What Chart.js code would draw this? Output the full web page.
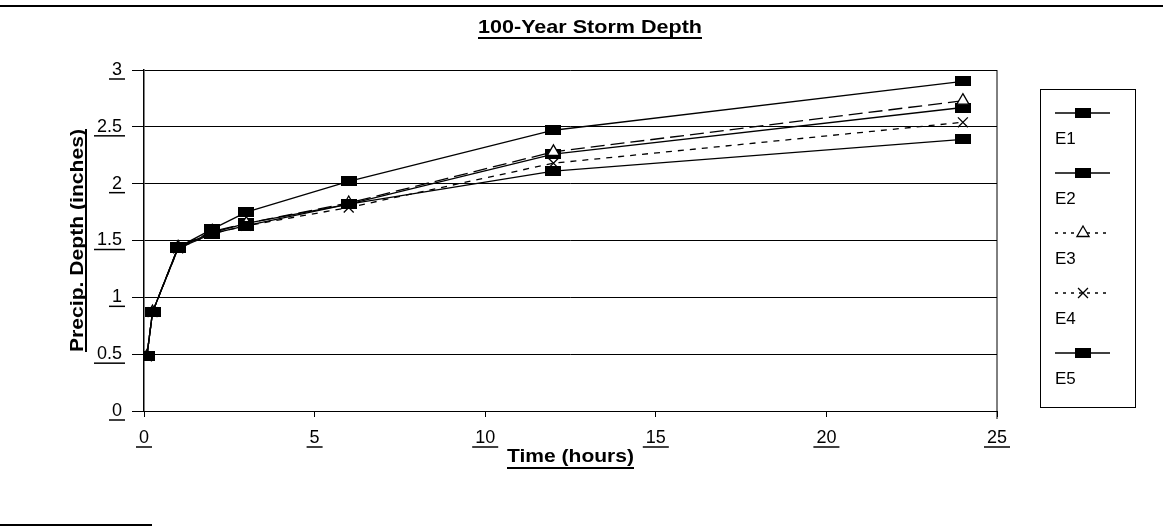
<!DOCTYPE html>
<html>
<head>
<meta charset="utf-8">
<title>100-Year Storm Depth</title>
<script src="https://cdn.jsdelivr.net/npm/chart.js@4.4.0/dist/chart.umd.min.js"></script>
<style>
  html,body{margin:0;padding:0;background:#fff;}
  #wrap{width:1163px;height:528px;position:relative;}
</style>
</head>
<body>
<div id="wrap"><canvas id="myChart" width="1163" height="528"></canvas></div>
<script>
'use strict';
let timeHours=[0.083,0.25,1,2,3,6,12,24];
let seriesNames=['E1','E2','E3','E4','E5'];
let e1Depth=[0.48,0.87,1.44,1.60,1.75,2.02,2.47,2.90];
let e2Depth=[0.48,0.87,1.43,1.56,1.63,1.82,2.11,2.39];
let e3Depth=[0.48,0.87,1.44,1.58,1.65,1.83,2.28,2.73];
let e4Depth=[0.48,0.87,1.43,1.56,1.63,1.79,2.18,2.54];
let e5Depth=[0.48,0.87,1.44,1.57,1.65,1.82,2.26,2.67];
let xTicks=[0,5,10,15,20,25];
let yTicks=[0,0.5,1,1.5,2,2.5,3];
let chartTitle='100-Year Storm Depth';
let xTitle='Time (hours)';
let yTitle='Precip. Depth (inches)';

let tickFont='"Liberation Sans", Arial, sans-serif';

function makeBox(){
  let c=document.createElement('canvas');
  c.width=16;
  c.height=10;
  let cx=c.getContext('2d');
  cx.fillStyle='#000';
  cx.fillRect(0,0,16,10);
  return c;
}
let boxMark=makeBox();

function toPoints(arr){
  let out=[];
  for(let i=0;i<arr.length;i++){
    out.push({x:timeHours[i],y:arr[i]});
  }
  return out;
}

let allDepths=[e1Depth,e2Depth,e3Depth,e4Depth,e5Depth];
let markStyles=[boxMark,boxMark,'triangle','crossRot',boxMark];
let dashStyles=[[],[],[14,6],[6,6],[]];

let datasets=[];
for(let i=0;i<seriesNames.length;i++){
  datasets.push({
    label:seriesNames[i],
    data:toPoints(allDepths[i]),
    borderColor:'#000',
    backgroundColor:typeof markStyles[i]==='string' ? '#fff' : '#000',
    borderWidth:1.3,
    borderDash:dashStyles[i],
    pointStyle:markStyles[i],
    pointRadius:7,
    pointBorderWidth:1.3,
    pointBorderColor:'#000',
    pointBackgroundColor:'#fff',
    tension:0
  });
}

function underline(ctx,x1,x2,y){
  ctx.beginPath();
  ctx.moveTo(x1,y);
  ctx.lineTo(x2,y);
  ctx.stroke();
}

// bold text squeezed/stretched to the width seen in the scan, underlined
function stretchedText(ctx,text,cx,base,width,lineGap){
  let w=ctx.measureText(text).width;
  ctx.save();
  ctx.translate(cx,base);
  ctx.scale(width/w,1);
  ctx.textAlign='center';
  ctx.fillText(text,0,0);
  ctx.restore();
  underline(ctx,cx-width/2,cx+width/2,base+lineGap);
}

let decorPlugin={
  id:'decor',
  afterDraw(chart){
    let ctx=chart.ctx;
    let area=chart.chartArea;
    let xs=chart.scales.x;
    let ys=chart.scales.y;
    ctx.save();
    ctx.strokeStyle='#000';
    ctx.fillStyle='#000';

    // scan lines on the page
    ctx.lineWidth=2;
    underline(ctx,0,1163,6);
    underline(ctx,0,152,525);

    // right frame of plot
    ctx.lineWidth=1;
    ctx.beginPath();
    ctx.moveTo(area.right,area.top);
    ctx.lineTo(area.right,area.bottom+8);
    ctx.stroke();

    // underlines below tick labels
    ctx.font='18px '+tickFont;
    ctx.lineWidth=1.5;
    yTicks.forEach(function(v){
      let w=ctx.measureText(String(v)).width;
      let py=ys.getPixelForValue(v);
      underline(ctx,122-w-3,125,py+9);
    });
    xTicks.forEach(function(v){
      let w=ctx.measureText(String(v)).width;
      let px=xs.getPixelForValue(v);
      underline(ctx,px-w/2-3,px+w/2+3,447);
    });

    ctx.font='bold 19px '+tickFont;
    ctx.textBaseline='alphabetic';
    ctx.lineWidth=2;
    stretchedText(ctx,chartTitle,590,33,224,5);

    let cxm=(area.left+area.right)/2;
    stretchedText(ctx,xTitle,cxm,462,127,6);

    let cym=(area.top+area.bottom)/2;
    ctx.save();
    ctx.translate(83,cym);
    ctx.rotate(-Math.PI/2);
    stretchedText(ctx,yTitle,0,0,223,3);
    ctx.restore();

    // legend
    let lx=1040,ly=89,lw=95,lh=318;
    ctx.lineWidth=1;
    ctx.strokeRect(lx+0.5,ly+0.5,lw,lh);
    ctx.font='17px '+tickFont;
    ctx.textAlign='left';
    for(let i=0;i<chart.data.datasets.length;i++){
      let ds=chart.data.datasets[i];
      let sy=113+i*60;
      ctx.save();
      ctx.lineWidth=1.3;
      ctx.setLineDash(ds.borderDash.length ? [3,5] : []);
      underline(ctx,1055,1110,sy);
      ctx.restore();
      let st=ds.pointStyle;
      if(typeof st==='string'){
        ctx.save();
        ctx.fillStyle='#fff';
        ctx.lineWidth=1.3;
        Chart.helpers.drawPoint(ctx,{pointStyle:st,radius:7,borderWidth:1.3},1083,sy);
        ctx.restore();
      }else{
        ctx.drawImage(st,1075,sy-5);
      }
      ctx.fillText(ds.label,1055,sy+31);
    }
    ctx.restore();
  }
};

let ctx=document.getElementById('myChart');
let myChart=new Chart(ctx,{
  type:'line',
  data:{datasets:datasets},
  options:{
    responsive:false,
    animation:false,
    layout:{padding:{top:70,right:166,bottom:0,left:0}},
    plugins:{
      legend:{display:false},
      title:{display:false},
      tooltip:{enabled:false}
    },
    scales:{
      x:{
        type:'linear',
        min:0,
        max:25,
        afterFit:function(s){s.height=117;},
        afterBuildTicks:function(s){s.ticks=xTicks.map(function(v){return {value:v};});},
        ticks:{color:'#000',font:{size:18,family:tickFont},padding:10,maxRotation:0,
          callback:function(v){return String(v);}},
        grid:{drawOnChartArea:false,drawTicks:true,tickLength:6,color:'#000'},
        border:{color:'#000',width:1}
      },
      y:{
        type:'linear',
        min:0,
        max:3,
        afterFit:function(s){s.width=144;},
        afterBuildTicks:function(s){s.ticks=yTicks.map(function(v){return {value:v};});},
        ticks:{color:'#000',font:{size:18,family:tickFont},padding:10,
          callback:function(v){return String(v);}},
        grid:{color:'#000',lineWidth:1,tickLength:12},
        border:{color:'#000',width:1.5}
      }
    }
  },
  plugins:[decorPlugin]
});
</script>
</body>
</html>
